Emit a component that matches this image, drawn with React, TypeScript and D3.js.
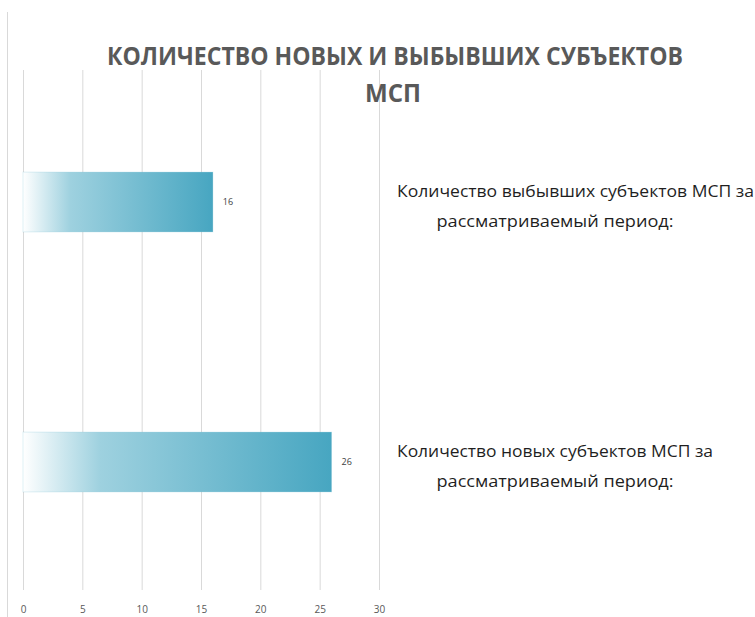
import * as d3 from 'd3';
import { useEffect, useRef } from 'react';

const categories = ['Количество выбывших субъектов МСП за рассматриваемый период:', 'Количество новых субъектов МСП за рассматриваемый период:'];
const labelLine1 = ['Количество выбывших субъектов МСП за', 'Количество новых субъектов МСП за'];
const labelLine2 = ['рассматриваемый период:', 'рассматриваемый период:'];
const values = [16, 26];
const xTicks = [0, 5, 10, 15, 20, 25, 30];
const titleLines = ['КОЛИЧЕСТВО НОВЫХ И ВЫБЫВШИХ СУБЪЕКТОВ', 'МСП'];

const W = 755;
const H = 617;
const FONT = '"Open Sans", "DejaVu Sans", sans-serif';

const drawChart = (container: SVGSVGElement) => {
  const svg = d3.select(container);
  svg.selectAll('*').remove();

  const left = 23;
  const right = 379;
  const top = 70;
  const bottom = 590;

  const x = d3.scaleLinear().domain([0, 30]).range([left, right]);
  const y = d3.scaleBand<string>().domain(categories).range([top + 2, bottom + 2]).paddingInner(0.77).paddingOuter(0.385);

  const defs = svg.append('defs');
  const grad = defs.append('linearGradient').attr('id', 'barGrad')
    .attr('x1', '0').attr('x2', '1').attr('y1', '0').attr('y2', '0');
  grad.append('stop').attr('offset', '0').attr('stop-color', '#ffffff');
  grad.append('stop').attr('offset', '0.25').attr('stop-color', '#9ed1df');
  grad.append('stop').attr('offset', '1').attr('stop-color', '#47a6c1');

  svg.append('rect').attr('width', W).attr('height', H).attr('fill', '#ffffff');

  // left border of the chart area
  svg.append('line')
    .attr('x1', 7.5).attr('x2', 7.5).attr('y1', 12).attr('y2', H)
    .attr('stroke', '#d9d9d9').attr('stroke-width', 1);

  // gridlines + tick labels
  const axis = svg.append('g')
    .attr('transform', `translate(0, ${bottom})`)
    .call(d3.axisBottom(x).tickValues(xTicks).tickSize(-(bottom - top)).tickPadding(16));
  axis.select('.domain').remove();
  axis.selectAll('.tick line').attr('stroke', '#d9d9d9');
  axis.selectAll('.tick text')
    .attr('fill', '#595959')
    .attr('font-family', FONT)
    .attr('font-size', 10);

  // bars
  svg.append('g').selectAll('rect')
    .data(values)
    .join('rect')
    .attr('x', x(0))
    .attr('y', (d, i) => y(categories[i]) as number)
    .attr('width', d => x(d) - x(0))
    .attr('height', y.bandwidth())
    .attr('fill', 'url(#barGrad)')
    .attr('stroke', '#5fb2c9')
    .attr('stroke-opacity', 0.2)
    .attr('stroke-width', 1);

  // value labels
  svg.append('g').selectAll('text')
    .data(values)
    .join('text')
    .attr('x', d => x(d) + 10)
    .attr('y', (d, i) => (y(categories[i]) as number) + y.bandwidth() / 2)
    .attr('dy', '0.35em')
    .attr('fill', '#404040')
    .attr('font-family', FONT)
    .attr('font-size', 9)
    .text(d => d);

  // category labels
  const lab = svg.append('g').selectAll('g')
    .data(categories)
    .join('g')
    .attr('transform', d => `translate(0, ${(y(d) as number) + y.bandwidth() / 2})`);
  lab.append('text')
    .attr('x', 397)
    .attr('y', -5)
    .attr('fill', '#1f1f1f')
    .attr('font-family', FONT)
    .attr('font-size', 16)
    .attr('textLength', (d, i) => (i === 0 ? 357 : 316))
    .attr('lengthAdjust', 'spacingAndGlyphs')
    .text((d, i) => labelLine1[i]);
  lab.append('text')
    .attr('x', 555)
    .attr('y', 25)
    .attr('text-anchor', 'middle')
    .attr('fill', '#1f1f1f')
    .attr('font-family', FONT)
    .attr('font-size', 16)
    .attr('textLength', 237)
    .attr('lengthAdjust', 'spacingAndGlyphs')
    .text((d, i) => labelLine2[i]);

  // title
  svg.append('text')
    .attr('x', 395).attr('y', 65)
    .attr('text-anchor', 'middle')
    .attr('fill', '#595959')
    .attr('font-family', FONT)
    .attr('font-weight', 700)
    .attr('font-size', 25)
    .attr('textLength', 576)
    .attr('lengthAdjust', 'spacingAndGlyphs')
    .text(titleLines[0]);
  svg.append('text')
    .attr('x', 393).attr('y', 102)
    .attr('text-anchor', 'middle')
    .attr('fill', '#595959')
    .attr('font-family', FONT)
    .attr('font-weight', 700)
    .attr('font-size', 25)
    .attr('textLength', 56)
    .attr('lengthAdjust', 'spacingAndGlyphs')
    .text(titleLines[1]);
};

export default function App() {
  const ref = useRef<SVGSVGElement>(null);
  useEffect(() => {
    if (ref.current) drawChart(ref.current);
  }, []);
  return (
    <svg
      ref={ref}
      width={W}
      height={H}
      viewBox={`0 0 ${W} ${H}`}
      style={{ position: 'absolute', left: 0, top: 0, display: 'block' }}
    />
  );
}
